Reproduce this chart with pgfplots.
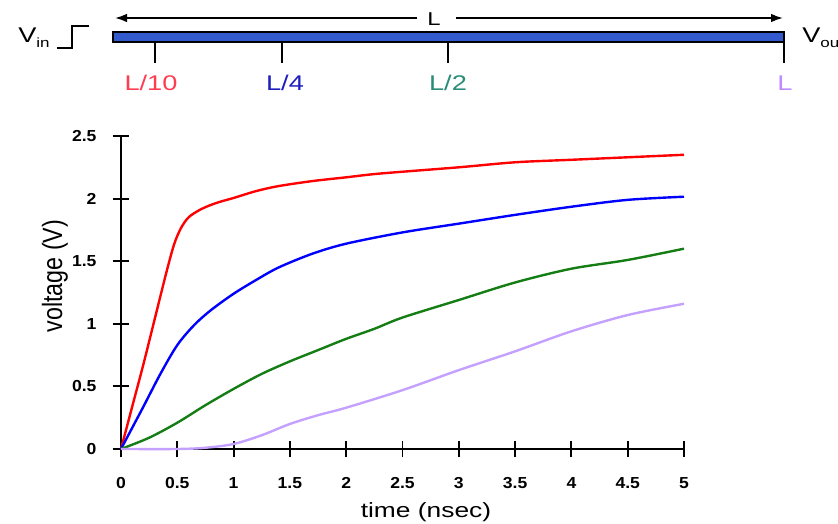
\documentclass[border=0pt]{standalone}
\usepackage{fontspec}
\setmainfont{Liberation Sans}
\newfontfamily\wide[FakeStretch=1.28]{Liberation Sans}
\newfontfamily\tickfont[FakeStretch=1.1]{Liberation Sans}
\usepackage{pgfplots}
\pgfplotsset{compat=1.18}
\usetikzlibrary{arrows.meta}

\definecolor{cRed}{RGB}{255,0,0}
\definecolor{cBlue}{RGB}{0,0,255}
\definecolor{cGreen}{RGB}{20,125,20}
\definecolor{cPurple}{RGB}{196,160,255}
\definecolor{barBlue}{RGB}{50,90,205}
\definecolor{lRed}{RGB}{255,60,80}
\definecolor{lBlue}{RGB}{30,30,190}
\definecolor{lTeal}{RGB}{40,140,120}
\definecolor{lPurple}{RGB}{190,140,255}

\begin{document}
\begin{tikzpicture}
% page = 838 x 524 px of the reference, 1 px = 0.75bp, axis origin at (0,0)
\path[use as bounding box] (-90.75bp,-56.25bp) rectangle (537.75bp,336.75bp);

\begin{axis}[
    at={(0,0)}, anchor=south west,
    scale only axis,
    width=422.25bp, height=234.75bp,
    xmin=0, xmax=5, ymin=0, ymax=2.5,
    axis lines=left,
    axis line style={line width=1.6pt, -},
    xtick={0,0.5,...,5}, ytick={0,0.5,...,2.5},
    xticklabels={0,0.5,1,1.5,2,2.5,3,3.5,4,4.5,5},
    yticklabels={0,0.5,1,1.5,2,2.5},
    tick align=center,
    major tick length=12.5bp,
    tick style={line width=1.5pt, black},
    ticklabel style={font=\tickfont\fontsize{12}{14}\selectfont\bfseries, inner sep=0pt},
    xticklabel style={anchor=north, yshift=-15bp},
    yticklabel style={anchor=east, xshift=-12bp},
    xlabel={time (nsec)},
    ylabel={\scalebox{1}[1.2]{voltage (V)}},
    xlabel style={font=\wide\fontsize{15.5}{17}\selectfont, anchor=center,
                  at={(axis description cs:0.5417,-0.2013)}},
    ylabel style={font=\fontsize{17.5}{19}\selectfont, anchor=center,
                  at={(axis description cs:-0.1172,0.5527)}},
    clip=false,
]
\addplot[cRed, line width=1.8pt, smooth] coordinates {
    (0,0) (0.1,0.34) (0.2,0.68) (0.3,1.04) (0.4,1.40) (0.47,1.63) (0.53,1.76)
    (0.6,1.85) (0.7,1.91) (0.8,1.95) (0.9,1.98) (1.0,2.005) (1.2,2.06)
    (1.4,2.1) (1.7,2.14) (2.0,2.17) (2.3,2.2) (3,2.25) (3.5,2.29) (4,2.31)
    (4.5,2.33) (5,2.35) };
\addplot[cBlue, line width=1.8pt, smooth] coordinates {
    (0,0) (0.1,0.17) (0.2,0.34) (0.35,0.6) (0.5,0.83) (0.65,0.99) (0.8,1.11)
    (1.0,1.24) (1.2,1.35) (1.4,1.45) (1.7,1.56) (2.0,1.64) (2.5,1.73) (3,1.8)
    (3.5,1.87) (4,1.935) (4.5,1.99) (5,2.015) };
\addplot[cGreen, line width=1.8pt, smooth] coordinates {
    (0,0) (0.25,0.09) (0.5,0.21) (0.75,0.35) (1,0.48) (1.25,0.6) (1.5,0.7)
    (1.75,0.79) (2,0.88) (2.25,0.96) (2.5,1.05) (3,1.19) (3.5,1.33) (4,1.44)
    (4.5,1.51) (5,1.6) };
\addplot[cPurple, line width=1.8pt, smooth] coordinates {
    (0,0) (0.5,0) (0.75,0.01) (1,0.04) (1.25,0.11) (1.5,0.2) (1.75,0.27)
    (2,0.33) (2.5,0.47) (3,0.63) (3.5,0.78) (4,0.94) (4.5,1.07) (5,1.16) };
\end{axis}

% interconnect sketch above the plot (1 unit = 1 px of the reference)
\begin{scope}[x=0.75bp, y=0.75bp, shift={(-121*0.75bp,449*0.75bp)},
              lbl/.style={font=\wide\fontsize{16}{18}\selectfont, inner sep=0pt}]
  \draw[{Latex[length=9bp,width=6.5bp]}-, line width=1.4pt] (115,-18) -- (417,-18);
  \draw[-{Latex[length=9bp,width=6.5bp]}, line width=1.4pt] (456,-18) -- (783,-18);
  \node[font=\wide\fontsize{14}{16}\selectfont, inner sep=0pt] at (434,-19) {L};
  \fill[barBlue, draw=black, line width=1.4pt] (113,-32) rectangle (784,-42);
  \foreach \px in {155,282,448,784}
    \draw[line width=1.4pt] (\px,-42) -- (\px,-63);
  \node[lbl, text=lRed] at (151,-83) {L/10};
  \node[lbl, text=lBlue] at (285,-83) {L/4};
  \node[lbl, text=lTeal] at (448,-83) {L/2};
  \node[lbl, text=lPurple] at (785,-83) {L};
  \node[lbl, anchor=west] at (18,-38) {V\raisebox{-0.45ex}{\fontsize{10}{11}\selectfont in}};
  \draw[line width=1.4pt] (57,-48) -- (72,-48) -- (72,-26) -- (89,-26);
  % V_out runs past the right edge, as in the reference
  \node[lbl, anchor=west] at (802,-38) {V\raisebox{-0.45ex}{\fontsize{10}{11}\selectfont out}};
\end{scope}
\end{tikzpicture}
\end{document}
